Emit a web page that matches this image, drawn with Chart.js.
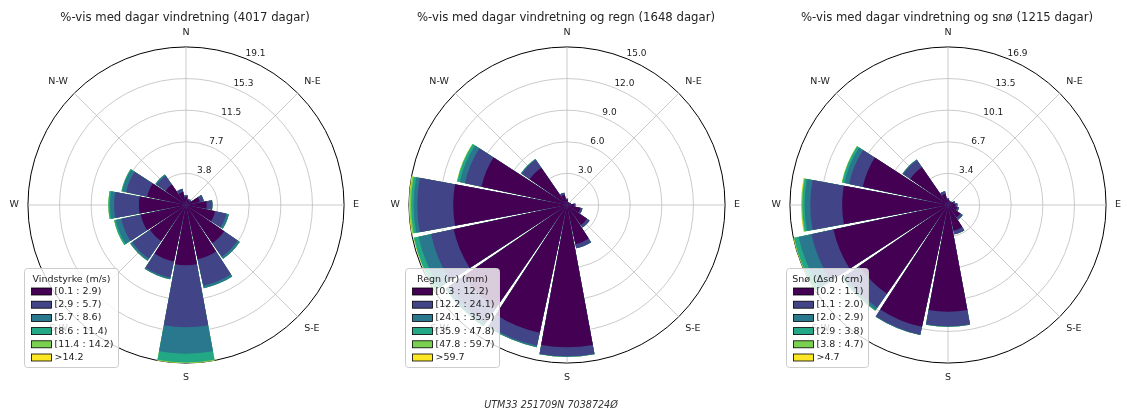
<!DOCTYPE html>
<html>
<head>
<meta charset="utf-8">
<script src="https://cdn.jsdelivr.net/npm/chart.js@4.4.1/dist/chart.umd.min.js"></script>
<style>
  html, body { margin: 0; padding: 0; background: #fff; }
  body { width: 1127px; height: 413px; position: relative; overflow: hidden; }
  canvas { position: absolute; top: 0; }
  #foot {
    position: absolute; top: 399px; left: 551px; transform: translateX(-50%);
    font: italic 9.6px "DejaVu Sans"; line-height: 12px; color: #333; white-space: nowrap;
  }
</style>
</head>
<body>
<canvas id="rose1" width="372" height="413" style="left:-1px"></canvas>
<canvas id="rose2" width="372" height="413" style="left:380px"></canvas>
<canvas id="rose3" width="372" height="413" style="left:761px"></canvas>
<div id="foot">UTM33 251709N 7038724Ø</div>
<script>
const FONT = 'DejaVu Sans';

// Wind directions, clockwise from north (16 sectors)
const directions = ['N', 'NNE', 'NE', 'ENE', 'E', 'ESE', 'SE', 'SSE',
                    'S', 'SSW', 'SW', 'WSW', 'W', 'WNW', 'NW', 'NNW'];
const compassLabels = ['N', 'N-E', 'E', 'S-E', 'S', 'S-W', 'W', 'N-W'];
const binColors = ['#440154', '#414487', '#2a788e', '#22a884', '#7ad151', '#fde725'];

// --- Wind speed, all days (% of days per direction and speed class)
const vindTitle = '%-vis med dagar vindretning (4017 dagar)';
const vindLegendTitle = 'Vindstyrke (m/s)';
const vindBins = ['[0.1 : 2.9)', '[2.9 : 5.7)', '[5.7 : 8.6)', '[8.6 : 11.4)', '[11.4 : 14.2)', '>14.2'];
const vindTicks = ['3.8', '7.7', '11.5', '15.3', '19.1'];
const vind0 = [1.0, 0.65, 0.6, 1.7, 2.5, 3.6, 5.6, 6.7, 7.3, 7.0, 5.3, 5.6, 5.7, 4.8, 3.0, 1.6];
const vind1 = [0.2, 0.15, 0.2, 0.5, 0.7, 1.4, 2.0, 3.3, 7.5, 2.0, 2.6, 2.4, 3.0, 2.6, 1.3, 0.4];
const vind2 = [0, 0, 0, 0, 0, 0.3, 0.3, 0.3, 3.2, 0.2, 0.3, 0.7, 0.5, 0.5, 0.2, 0];
const vind3 = [0, 0, 0, 0, 0, 0, 0, 0, 1.05, 0, 0, 0.2, 0.2, 0.1, 0, 0];
const vind4 = [0, 0, 0, 0, 0, 0, 0, 0, 0.08, 0, 0, 0, 0, 0, 0, 0];
const vind5 = [0, 0, 0, 0, 0, 0, 0, 0, 0, 0, 0, 0, 0, 0, 0, 0];

// --- Wind direction on rain days, by precipitation class
const regnTitle = '%-vis med dagar vindretning og regn (1648 dagar)';
const regnLegendTitle = 'Regn (rr) (mm)';
const regnBins = ['[0.3 : 12.2)', '[12.2 : 24.1)', '[24.1 : 35.9)', '[35.9 : 47.8)', '[47.8 : 59.7)', '>59.7'];
const regnTicks = ['3.0', '6.0', '9.0', '12.0', '15.0'];
const regn0 = [0.5, 0.3, 0.3, 0.35, 0.7, 1.3, 2.3, 3.8, 13.5, 12.4, 11.9, 11.0, 10.8, 8.3, 4.3, 1.0];
const regn1 = [0.1, 0, 0, 0.05, 0.1, 0.2, 0.3, 0.4, 0.85, 1.25, 1.7, 2.2, 3.4, 1.6, 0.9, 0.2];
const regn2 = [0, 0, 0, 0, 0, 0, 0, 0, 0.05, 0.15, 0.35, 1.2, 0.35, 0.5, 0.1, 0];
const regn3 = [0, 0, 0, 0, 0, 0, 0, 0, 0, 0, 0.05, 0.45, 0.25, 0.25, 0, 0];
const regn4 = [0, 0, 0, 0, 0, 0, 0, 0, 0, 0, 0, 0.05, 0.15, 0.05, 0, 0];
const regn5 = [0, 0, 0, 0, 0, 0, 0, 0, 0, 0, 0, 0, 0.05, 0, 0, 0];

// --- Wind direction on snow days, by new-snow class
const snoTitle = '%-vis med dagar vindretning og snø (1215 dagar)';
const snoLegendTitle = 'Snø (Δsd) (cm)';
const snoBins = ['[0.2 : 1.1)', '[1.1 : 2.0)', '[2.0 : 2.9)', '[2.9 : 3.8)', '[3.8 : 4.7)', '>4.7'];
const snoTicks = ['3.4', '6.7', '10.1', '13.5', '16.9'];
const sno0 = [0.6, 0.4, 0.4, 0.6, 0.8, 1.0, 1.6, 2.8, 11.4, 13.3, 11.5, 12.5, 11.3, 9.3, 4.9, 1.2];
const sno1 = [0.1, 0.1, 0.1, 0.2, 0.2, 0.2, 0.3, 0.4, 1.55, 0.85, 1.8, 2.4, 3.4, 1.5, 0.9, 0.3];
const sno2 = [0, 0, 0, 0, 0, 0, 0, 0, 0.05, 0.05, 0.3, 1.4, 0.6, 0.5, 0.1, 0];
const sno3 = [0, 0, 0, 0, 0, 0, 0, 0, 0, 0, 0.1, 0.5, 0.25, 0.25, 0, 0];
const sno4 = [0, 0, 0, 0, 0, 0, 0, 0, 0, 0, 0, 0.05, 0.1, 0.05, 0, 0];
const sno5 = [0, 0, 0, 0, 0, 0, 0, 0, 0, 0, 0, 0.02, 0.05, 0, 0, 0];

// Each sector is 22.5 deg; bars are slightly narrower so a white gap separates them.
const SECTOR = 360 / directions.length;
const OPENING = 20.9;

// Arc widths: half of the N bar, then (gap, bar) for every other sector, closing gap and the other N half.
function sectorAngles() {
  const gap = SECTOR - OPENING;
  const a = [OPENING / 2];
  for (let k = 1; k < directions.length; k++) a.push(gap, OPENING);
  a.push(gap, OPENING / 2);
  return a;
}
function sectorValues(v) {
  const out = [v[0]];
  for (let k = 1; k < v.length; k++) out.push(0, v[k]);
  out.push(0, v[0]);
  return out;
}

// Radius labels along the NNE direction
const radiusLabels = {
  id: 'radiusLabels',
  afterDraw(chart) {
    const s = chart.scales.r, ctx = chart.ctx;
    const a = 22.5 * Math.PI / 180;
    ctx.save();
    ctx.font = `9px "${FONT}"`;
    ctx.fillStyle = '#222';
    ctx.textAlign = 'left';
    ctx.textBaseline = 'middle';
    s.ticks.forEach((t, i) => {
      if (!i) return;
      const d = s.getDistanceFromCenterForValue(t.value);
      ctx.fillText(t.label, s.xCenter + d * Math.sin(a) - 1, s.yCenter - d * Math.cos(a) - 5);
    });
    ctx.restore();
  }
};

// Framed legend in the lower-left corner of the rose
const roseLegend = {
  id: 'roseLegend',
  afterDraw(chart, args, opts) {
    const s = chart.scales.r, ctx = chart.ctx;
    const items = chart.data.datasets.map(ds => ({ text: ds.label, color: ds.backgroundColor }));
    ctx.save();
    ctx.font = `9.5px "${FONT}"`;
    const textW = Math.max(...items.map(it => ctx.measureText(it.text).width));
    const titleW = ctx.measureText(opts.title).width;
    const left = Math.round(s.xCenter - 162) + 0.5;
    const top = Math.round(s.yCenter + 63) + 0.5;
    const width = Math.round(Math.max(30 + textW + 5, titleW + 8));
    const height = 99;
    ctx.beginPath();
    ctx.roundRect(left, top, width, height, 3);
    ctx.fillStyle = 'rgba(255,255,255,0.8)';
    ctx.fill();
    ctx.strokeStyle = '#cccccc';
    ctx.lineWidth = 1;
    ctx.stroke();
    ctx.fillStyle = '#222';
    ctx.textBaseline = 'middle';
    ctx.textAlign = 'center';
    ctx.fillText(opts.title, left + width / 2, top + 11);
    ctx.textAlign = 'left';
    items.forEach((it, i) => {
      const y = top + 23 + i * 13.2;
      ctx.fillStyle = it.color;
      ctx.fillRect(left + 7, y - 3.5, 20, 7);
      ctx.strokeStyle = '#000';
      ctx.lineWidth = 0.8;
      ctx.strokeRect(left + 7, y - 3.5, 20, 7);
      ctx.fillStyle = '#222';
      ctx.fillText(it.text, left + 30, y);
    });
    ctx.restore();
  }
};

function makeRose(canvasId, title, legendTitle, binLabels, tickLabels, bins) {
  // stack the classes outward: each dataset reaches the cumulative total of its class
  const cumulative = [];
  let running = new Array(directions.length).fill(0);
  bins.forEach(b => {
    running = running.map((s, k) => s + b[k]);
    cumulative.push(running);
  });
  const rmax = Math.max(...running);
  const angles = sectorAngles();
  const datasets = cumulative.map((c, i) => ({
    label: binLabels[i],
    data: sectorValues(c),
    backgroundColor: binColors[i],
    borderWidth: 0,
    angle: angles
  }));

  return new Chart(document.getElementById(canvasId), {
    type: 'polarArea',
    data: { labels: compassLabels, datasets },
    options: {
      responsive: false,
      animation: false,
      events: [],
      devicePixelRatio: 1,
      layout: { padding: { top: 0, bottom: 29, left: 0, right: 0 } },
      plugins: {
        legend: { display: false },
        tooltip: { enabled: false },
        title: {
          display: true, text: title, color: '#222',
          font: { family: FONT, size: 11.7, weight: 'normal' },
          padding: { top: 11, bottom: 1.5 }
        },
        roseLegend: { title: legendTitle }
      },
      scales: {
        r: {
          type: 'radialLinear',
          min: 0,
          max: rmax,
          startAngle: 0,
          z: 1,
          afterBuildTicks: scale => {
            scale.ticks = [0, 1, 2, 3, 4, 5].map(i => ({ value: rmax * i / 5 }));
          },
          ticks: {
            display: false,
            callback: (v, i) => (i === 0 ? '' : tickLabels[i - 1])
          },
          grid: {
            circular: true,
            color: ctx => (ctx.index === 5 ? '#000' : '#bdbdbd'),
            lineWidth: ctx => (ctx.index === 5 ? 1 : 0.8)
          },
          angleLines: { display: true, color: '#bdbdbd', lineWidth: 0.8 },
          pointLabels: {
            display: true, color: '#222', padding: 9,
            font: { family: FONT, size: 9.5 }
          }
        }
      }
    },
    plugins: [radiusLabels, roseLegend]
  });
}

makeRose('rose1', vindTitle, vindLegendTitle, vindBins, vindTicks,
  [vind0, vind1, vind2, vind3, vind4, vind5]);
makeRose('rose2', regnTitle, regnLegendTitle, regnBins, regnTicks,
  [regn0, regn1, regn2, regn3, regn4, regn5]);
makeRose('rose3', snoTitle, snoLegendTitle, snoBins, snoTicks,
  [sno0, sno1, sno2, sno3, sno4, sno5]);
</script>
</body>
</html>
